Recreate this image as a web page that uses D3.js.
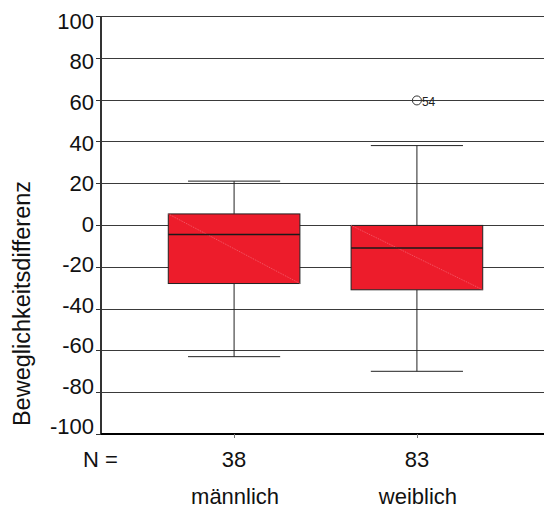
<!DOCTYPE html>
<html><head><meta charset="utf-8">
<script src="https://cdn.jsdelivr.net/npm/d3@7"></script>
<style>
html,body{margin:0;padding:0;background:#fff;}
svg{display:block;font-family:"Liberation Sans",Arial,sans-serif;}
</style></head>
<body>
<svg id="chart" width="544" height="509"></svg>
<script>
const categories = ["männlich", "weiblich"];
const counts = [38, 83];
const q1 = [-28, -31];
const medians = [-4.5, -11];
const q3 = [5.3, -0.2];
const whiskerLow = [-63, -70];
const whiskerHigh = [21, 38];
const outliers = [{group: "weiblich", value: 59.6, label: "54"}];
const yTicks = [100, 80, 60, 40, 20, 0, -20, -40, -60, -80, -100];
const yTitle = "Beweglichkeitsdifferenz";

const svg = d3.select("#chart");
const mLeft = 101, mRight = 544, mTop = 16, mBottom = 434;

const y = d3.scaleLinear().domain([-100, 100]).range([mBottom, mTop]);
const yLab = d3.scaleLinear().domain([-100, 100]).range([426.5, 21]);
const x = d3.scaleBand().domain(categories).range([mLeft, 550]).paddingInner(0.28).paddingOuter(0.368);
const cx = c => x(c) + x.bandwidth() / 2;

// gridlines
svg.append("g").selectAll("line").data(yTicks.filter(d => d !== -100)).join("line")
  .attr("x1", mLeft).attr("x2", mRight)
  .attr("y1", d => Math.round(y(d)) + 0.5).attr("y2", d => Math.round(y(d)) + 0.5)
  .attr("stroke", "#3a3a3a").attr("stroke-width", 1);

// y ticks
svg.append("g").selectAll("line").data(yTicks).join("line")
  .attr("x1", mLeft - 5).attr("x2", mLeft)
  .attr("y1", d => Math.round(y(d)) + 0.5).attr("y2", d => Math.round(y(d)) + 0.5)
  .attr("stroke", "#333");
svg.append("g").selectAll("text").data(yTicks).join("text")
  .attr("x", 94).attr("y", d => yLab(d)).attr("dy", "0.36em")
  .attr("text-anchor", "end").attr("font-size", 22).attr("fill", "#111")
  .text(d => d);

// y axis title
svg.append("text")
  .attr("transform", "translate(30,303.5) rotate(-90)")
  .attr("text-anchor", "middle").attr("font-size", 23.5).attr("fill", "#111")
  .text(yTitle);

// axes lines
svg.append("line").attr("x1", mLeft).attr("x2", mLeft).attr("y1", mTop).attr("y2", mBottom)
  .attr("stroke", "#333").attr("stroke-width", 2);
svg.append("line").attr("x1", mLeft).attr("x2", mRight).attr("y1", mBottom).attr("y2", mBottom)
  .attr("stroke", "#000").attr("stroke-width", 2);

// x ticks
svg.append("g").selectAll("line").data(categories).join("line")
  .attr("x1", d => Math.round(cx(d)) + 0.5).attr("x2", d => Math.round(cx(d)) + 0.5)
  .attr("y1", mBottom).attr("y2", mBottom + 4).attr("stroke", "#777");

// boxes
const bw = x.bandwidth();
const capW = bw * 0.7;
categories.forEach((c, i) => {
  const g = svg.append("g");
  const xc = cx(c);
  g.append("line").attr("x1", xc).attr("x2", xc).attr("y1", y(whiskerHigh[i])).attr("y2", y(q3[i])).attr("stroke", "#222");
  g.append("line").attr("x1", xc).attr("x2", xc).attr("y1", y(q1[i])).attr("y2", y(whiskerLow[i])).attr("stroke", "#222");
  g.append("line").attr("x1", xc - capW / 2).attr("x2", xc + capW / 2).attr("y1", y(whiskerHigh[i])).attr("y2", y(whiskerHigh[i])).attr("stroke", "#222");
  g.append("line").attr("x1", xc - capW / 2).attr("x2", xc + capW / 2).attr("y1", y(whiskerLow[i])).attr("y2", y(whiskerLow[i])).attr("stroke", "#222");
  g.append("rect").attr("x", x(c)).attr("width", bw)
    .attr("y", y(q3[i])).attr("height", y(q1[i]) - y(q3[i]))
    .attr("fill", "#ED1C2B").attr("stroke", "#222").attr("stroke-width", 1);
  g.append("line").attr("x1", x(c)).attr("x2", x(c) + bw).attr("y1", y(q3[i])).attr("y2", y(q1[i]))
    .attr("stroke", "#f56b78").attr("stroke-width", 0.8).attr("stroke-dasharray", "1,1");
  g.append("line").attr("x1", x(c)).attr("x2", x(c) + bw).attr("y1", y(medians[i])).attr("y2", y(medians[i]))
    .attr("stroke", "#1a1a1a").attr("stroke-width", 1.5);
  svg.append("text").attr("x", xc).attr("y", 467).attr("text-anchor", "middle")
    .attr("font-size", 22).attr("fill", "#111").text(counts[i]);
  svg.append("text").attr("x", xc + 1).attr("y", 504).attr("text-anchor", "middle")
    .attr("font-size", 22).attr("fill", "#111").text(c);
});

// outliers
outliers.forEach(o => {
  const xc = cx(o.group);
  svg.append("circle").attr("cx", xc).attr("cy", y(o.value)).attr("r", 4.5)
    .attr("fill", "none").attr("stroke", "#333");
  svg.append("text").attr("x", xc + 5).attr("y", y(o.value) + 5.5).attr("font-size", 12)
    .attr("fill", "#222").text(o.label);
});

svg.append("text").attr("x", 83).attr("y", 467).attr("font-size", 22).attr("fill", "#111").text("N =");
</script>
</body></html>
